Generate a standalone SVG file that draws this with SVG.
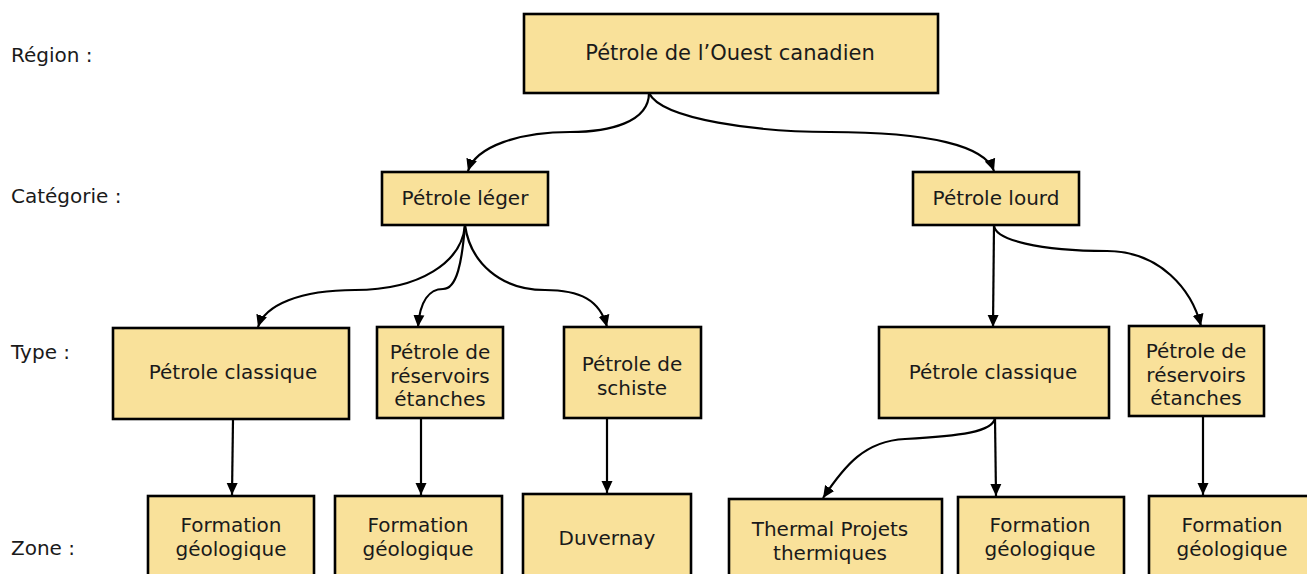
<svg xmlns="http://www.w3.org/2000/svg" width="1307" height="574" viewBox="0 0 1307 574">
<style>
.box{fill:#f9e19a;stroke:#000;stroke-width:2.6}
.t{font-family:"DejaVu Sans",sans-serif;font-size:20px;fill:#1a1a1a;text-anchor:middle;dominant-baseline:central}
.lbl{font-family:"DejaVu Sans",sans-serif;font-size:20px;fill:#1a1a1a;dominant-baseline:central}
.c{fill:none;stroke:#000;stroke-width:2.2;marker-end:url(#ah)}
</style>
<defs>
<marker id="ah" markerUnits="userSpaceOnUse" markerWidth="12" markerHeight="12" viewBox="0 0 12 12" refX="12" refY="6" orient="auto">
<path d="M0,0.5 L12,6 L0,11.5 Z" fill="#000"/>
</marker>
</defs>
<rect width="1307" height="574" fill="#fff"/>
<g id="labels">
<text class="lbl" x="11" y="55">Région :</text>
<text class="lbl" x="11" y="196">Catégorie :</text>
<text class="lbl" x="11" y="352">Type :</text>
<text class="lbl" x="11" y="548">Zone :</text>
</g>
<g id="connectors">
<path class="c" d="M649,93 C649,122 610,132 570,132 C520,132 476,146 468,171"/>
<path class="c" d="M649,93 C662,120 760,132 830,132 C930,132 985,146 994,171"/>
<path class="c" d="M465,225 C462,262 420,290 355,290 C300,290 265,305 258,327"/>
<path class="c" d="M465,225 C462,262 457,289 443,289 C430,289 420,300 418,327"/>
<path class="c" d="M465,225 C470,262 500,290 545,290 C580,290 600,300 607,327"/>
<path class="c" d="M994,225 L993,327"/>
<path class="c" d="M994,225 C994,240 1040,251 1107,251 C1160,251 1192,290 1201,326"/>
<path class="c" d="M233,419 L232,495"/>
<path class="c" d="M421,418 L421,495"/>
<path class="c" d="M607,418 L607,493"/>
<path class="c" d="M995,418 L996,496"/>
<path class="c" d="M1203,416 L1203,495"/>
<path class="c" d="M995,418 C993,432 960,436 905,439 C865,441 845,465 823,498"/>
</g>
<g id="n-root"><rect class="box" x="524" y="14" width="414" height="79"/><text class="t" x="730" y="53" style="font-size:21px">Pétrole de l’Ouest canadien</text></g>
<g id="n-leger"><rect class="box" x="382" y="172" width="166" height="53"/><text class="t" x="465" y="198">Pétrole léger</text></g>
<g id="n-lourd"><rect class="box" x="913" y="172" width="166" height="53"/><text class="t" x="996" y="198">Pétrole lourd</text></g>
<g id="n-classL"><rect class="box" x="113" y="328" width="236" height="91"/><text class="t" x="233" y="372">Pétrole classique</text></g>
<g id="n-resL"><rect class="box" x="377" y="327" width="126" height="91"/><text class="t" x="440" y="352">Pétrole de</text><text class="t" x="440" y="376">réservoirs</text><text class="t" x="440" y="399">étanches</text></g>
<g id="n-schiste"><rect class="box" x="564" y="327" width="137" height="91"/><text class="t" x="632" y="364">Pétrole de</text><text class="t" x="632" y="388">schiste</text></g>
<g id="n-classR"><rect class="box" x="879" y="327" width="230" height="91"/><text class="t" x="993" y="372">Pétrole classique</text></g>
<g id="n-resR"><rect class="box" x="1129" y="326" width="135" height="90"/><text class="t" x="1196" y="351">Pétrole de</text><text class="t" x="1196" y="375">réservoirs</text><text class="t" x="1196" y="398">étanches</text></g>
<g id="n-form1"><rect class="box" x="148" y="496" width="166" height="100"/><text class="t" x="231" y="525">Formation</text><text class="t" x="231" y="549">géologique</text></g>
<g id="n-form2"><rect class="box" x="335" y="496" width="167" height="100"/><text class="t" x="418" y="525">Formation</text><text class="t" x="418" y="549">géologique</text></g>
<g id="n-duvernay"><rect class="box" x="523" y="494" width="168" height="100"/><text class="t" x="607" y="538">Duvernay</text></g>
<g id="n-thermal"><rect class="box" x="729" y="499" width="213" height="100"/><text class="t" x="830" y="529">Thermal Projets</text><text class="t" x="830" y="553">thermiques</text></g>
<g id="n-form3"><rect class="box" x="958" y="497" width="166" height="100"/><text class="t" x="1040" y="525">Formation</text><text class="t" x="1040" y="549">géologique</text></g>
<g id="n-form4"><rect class="box" x="1149" y="496" width="170" height="100"/><text class="t" x="1232" y="525">Formation</text><text class="t" x="1232" y="549">géologique</text></g>
</svg>
